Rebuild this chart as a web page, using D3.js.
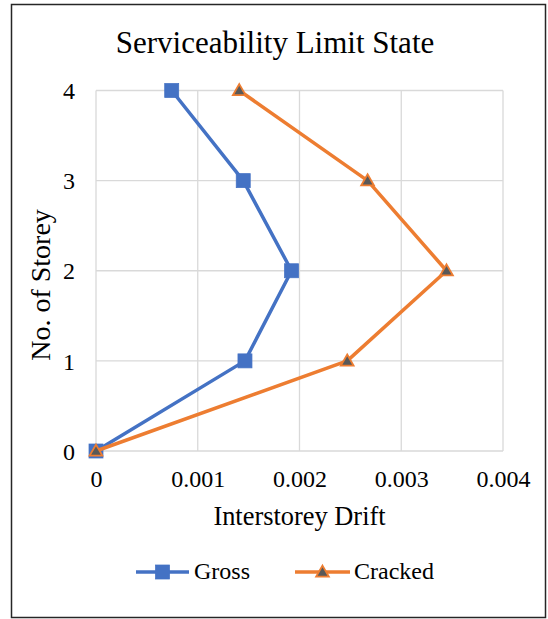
<!DOCTYPE html>
<html>
<head>
<meta charset="utf-8">
<script src="https://cdn.jsdelivr.net/npm/d3@7"></script>
<style>
  html, body { margin: 0; padding: 0; background: #fff; }
  svg { display: block; }
  text { font-family: "Liberation Serif", "Times New Roman", serif; fill: #000; }
</style>
</head>
<body>
<script>
// Storey levels and interstorey drift for each section assumption
const storeys = [0, 1, 2, 3, 4];
const grossDrift = [0, 0.001464, 0.001922, 0.001447, 0.000744];
const crackedDrift = [0, 0.002469, 0.003445, 0.002669, 0.001408];
const xTicks = [0, 0.001, 0.002, 0.003, 0.004];
const xTickLabels = ["0", "0.001", "0.002", "0.003", "0.004"];
const yTicks = [0, 1, 2, 3, 4];

const W = 548, H = 619;
const svg = d3.select("body").append("svg").attr("width", W).attr("height", H);

// chart frame
svg.append("rect")
  .attr("x", 11.5).attr("y", 4.5).attr("width", 534).attr("height", 613)
  .attr("fill", "#fff").attr("stroke", "#262626").attr("stroke-width", 1.5);

const x = d3.scaleLinear().domain([0, 0.004]).range([96, 503]);
const y = d3.scaleLinear().domain([0, 4]).range([451, 90.5]);

// gridlines
const grid = svg.append("g");
grid.selectAll("line.v").data(xTicks).join("line")
  .attr("x1", d => x(d)).attr("x2", d => x(d))
  .attr("y1", y(0)).attr("y2", y(4))
  .attr("stroke", "#d9d9d9").attr("stroke-width", 1.3);
grid.selectAll("line.h").data(yTicks).join("line")
  .attr("x1", x(0)).attr("x2", x(0.004))
  .attr("y1", d => y(d)).attr("y2", d => y(d))
  .attr("stroke", "#d9d9d9").attr("stroke-width", 1.3);

// axes (labels only; lines come from the grid)
const xAxis = svg.append("g").attr("transform", `translate(0,${y(0)})`)
  .call(d3.axisBottom(x).tickValues(xTicks).tickSize(0).tickPadding(0)
    .tickFormat((d, i) => xTickLabels[i]));
xAxis.select(".domain").remove();
xAxis.selectAll("text").attr("dy", null).attr("y", 36)
  .style("font-size", "24px").style("font-family", "Liberation Serif");

const yAxis = svg.append("g").attr("transform", `translate(${x(0)},0)`)
  .call(d3.axisLeft(y).tickValues(yTicks).tickSize(0).tickPadding(21).tickFormat(d3.format("d")));
yAxis.select(".domain").remove();
yAxis.selectAll("text").attr("dy", "0.34em")
  .style("font-size", "24px").style("font-family", "Liberation Serif");

// title and axis titles
svg.append("text").attr("x", 275).attr("y", 53).attr("text-anchor", "middle")
  .style("font-size", "31px").text("Serviceability Limit State");
svg.append("text").attr("x", 299.5).attr("y", 525).attr("text-anchor", "middle")
  .style("font-size", "26.4px").text("Interstorey Drift");
svg.append("text").attr("transform", "translate(50,285) rotate(-90)").attr("text-anchor", "middle")
  .style("font-size", "28px").text("No. of Storey");

const series = [
  { name: "Gross", values: grossDrift, color: "#4472C4", marker: "square" },
  { name: "Cracked", values: crackedDrift, color: "#ED7D31", marker: "triangle" }
];

const line = d3.line().x(d => x(d[0])).y(d => y(d[1]));

function drawMarker(g, type, color, cx, cy) {
  if (type === "square") {
    g.append("rect").attr("x", cx - 7).attr("y", cy - 7).attr("width", 14).attr("height", 14)
      .attr("fill", color).attr("stroke", color).attr("stroke-width", 0.75);
  } else {
    g.append("path")
      .attr("d", d3.symbol(d3.symbolTriangle, 70)())
      .attr("transform", `translate(${cx},${cy + 1})`)
      .attr("fill", "#595959").attr("stroke", color).attr("stroke-width", 1.8);
  }
}

series.forEach(s => {
  const pts = s.values.map((v, i) => [v, storeys[i]]);
  svg.append("path").datum(pts).attr("d", line)
    .attr("fill", "none").attr("stroke", s.color).attr("stroke-width", 3.5)
    .attr("stroke-linejoin", "round");
  const mg = svg.append("g");
  pts.forEach(p => drawMarker(mg, s.marker, s.color, x(p[0]), y(p[1])));
});

// legend
const legendY = 572;
const legendItems = [
  { s: series[0], x0: 136, x1: 189, tx: 194 },
  { s: series[1], x0: 295, x1: 350, tx: 354 }
];
legendItems.forEach(it => {
  const g = svg.append("g");
  g.append("line").attr("x1", it.x0).attr("x2", it.x1).attr("y1", legendY).attr("y2", legendY)
    .attr("stroke", it.s.color).attr("stroke-width", 3.5);
  drawMarker(g, it.s.marker, it.s.color, (it.x0 + it.x1) / 2, legendY);
  g.append("text").attr("x", it.tx).attr("y", 579).style("font-size", "24px").text(it.s.name);
});
</script>
</body>
</html>
